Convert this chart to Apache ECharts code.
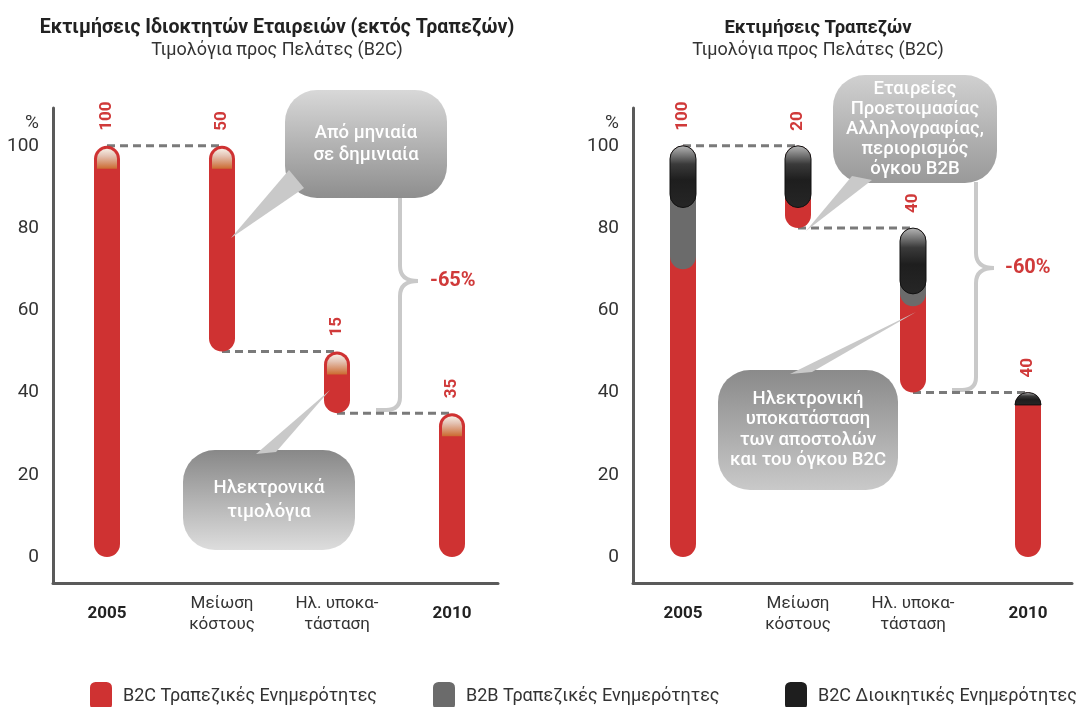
<!DOCTYPE html>
<html>
<head>
<meta charset="utf-8">
<script src="https://cdn.jsdelivr.net/npm/echarts@6/dist/echarts.min.js"></script>
<style>
  html, body { margin: 0; background: #fff; }
  #chart { width: 1077px; height: 707px; }
</style>
</head>
<body>
<div id="chart"></div>
<script>
// --- data ---
const categories = ['2005', 'Μείωση\nκόστους', 'Ηλ. υποκα-\nτάσταση', '2010']
const yTicks = [0, 20, 40, 60, 80, 100]

// left chart (Εκτιμήσεις Ιδιοκτητών Εταιρειών)
const leftBase = [0, 50, 35, 0]
const leftRed = [100, 50, 15, 35]

// right chart (Εκτιμήσεις Τραπεζών)
const rightBase = [0, 80, 40, 0]
const rightRed = [70, 5, 21, 37]
const rightGray = [15, 0, 3, 0]
const rightBlack = [15, 15, 16, 3]

const leftChange = '-65%'
const rightChange = '-60%'

const seriesNames = ['B2C Τραπεζικές Ενημερότητες', 'B2B Τραπεζικές Ενημερότητες', 'B2C Διοικητικές Ενημερότητες']

// --- helpers ---
const FONT = "Roboto, 'DejaVu Sans', sans-serif"
const RED = '#cf3232'
const GRAY = '#6b6b6b'
const BLACK = '#1e1e1e'
const BAR_W = 26

const add = (...arrs) => arrs[0].map((_, i) => arrs.reduce((s, a) => s + a[i], 0))

const leftTop = add(leftBase, leftRed)
const rightTop = add(rightBase, rightRed, rightGray, rightBlack)

// each segment is drawn from its own start up to the bar top, so the upper colour overlaps with a rounded bottom
const segData = (start, vals, top) =>
  vals.map((v, i) => (v > 0 ? [i, start[i], top[i]] : null)).filter(Boolean)

const linkData = (top) => top.slice(1).map((t, i) => [i, t])
const labelData = (base, top) => top.map((t, i) => [i, t, t - base[i]])

const capsule = (fill, stroke, withCap) => (params, api) => {
  const p0 = api.coord([api.value(0), api.value(1)])
  const p1 = api.coord([api.value(0), api.value(2)])
  const h = p0[1] - p1[1]
  const half = BAR_W / 2
  // short segments become a dome (flat bottom), longer ones a full capsule
  const r = h >= BAR_W ? half : [Math.min(half, h), Math.min(half, h), 0, 0]
  const children = [{
    type: 'rect',
    shape: { x: p1[0] - half, y: p1[1], width: BAR_W, height: h, r: r },
    style: { fill: fill, stroke: stroke, lineWidth: stroke ? 1 : 0 }
  }]
  if (withCap) {
    children.push({
      type: 'rect',
      shape: { x: p1[0] - half + 3, y: p1[1] + 3, width: BAR_W - 6, height: 20, r: [10, 10, 0, 0] },
      style: {
        fill: new echarts.graphic.LinearGradient(0, 0, 0, 1, [
          { offset: 0, color: '#f6eee4' },
          { offset: 0.35, color: '#e4c3b4' },
          { offset: 0.65, color: '#d99a78' },
          { offset: 1, color: '#cc6a30' }
        ])
      }
    })
  }
  return { type: 'group', children: children }
}

const linkRender = (params, api) => {
  const a = api.coord([api.value(0), api.value(1)])
  const b = api.coord([api.value(0) + 1, api.value(1)])
  return {
    type: 'line',
    shape: { x1: a[0], y1: a[1], x2: b[0], y2: b[1] },
    style: { stroke: '#7a7a7a', lineWidth: 3, lineDash: [8, 5] }
  }
}

const labelRender = (params, api) => {
  const p = api.coord([api.value(0), api.value(1)])
  return {
    type: 'text',
    x: p[0],
    y: p[1] - 15,
    rotation: Math.PI / 2,
    style: {
      text: String(api.value(2)),
      fill: '#d03a3a',
      fontFamily: FONT,
      fontWeight: 'bold',
      fontSize: 17,
      align: 'left',
      verticalAlign: 'middle'
    }
  }
}

const blackFill = new echarts.graphic.LinearGradient(0, 0, 0, 1, [
  { offset: 0, color: '#b8b8b8' },
  { offset: 0.3, color: '#3a3a3a' },
  { offset: 0.55, color: '#1e1e1e' },
  { offset: 1, color: '#262626' }
])

const xAxisOf = (gridIndex, min, max) => ({
  type: 'value',
  gridIndex: gridIndex,
  min: min,
  max: max,
  splitLine: { show: false },
  axisTick: { show: false },
  axisLine: { show: true, onZero: false, lineStyle: { color: '#5a5a5a', width: 3 } },
  axisLabel: {
    customValues: [0, 1, 2, 3],
    margin: 10,
    formatter: (v) => {
      const c = categories[Math.round(v)]
      return /^\d+$/.test(c) ? '{b|' + c + '}' : '{n|' + c + '}'
    },
    rich: {
      b: { fontFamily: FONT, fontWeight: 'bold', fontSize: 17, color: '#222', lineHeight: 42 },
      n: { fontFamily: FONT, fontSize: 17, color: '#333', lineHeight: 21 }
    }
  }
})

const yAxisOf = (gridIndex) => ({
  type: 'value',
  gridIndex: gridIndex,
  min: -6.3,
  max: 109.2,
  splitLine: { show: false },
  axisTick: { show: false },
  axisLine: { show: true, onZero: false, lineStyle: { color: '#5a5a5a', width: 3 } },
  axisLabel: {
    customValues: yTicks.concat([105.5]),
    margin: 14,
    fontFamily: FONT,
    fontSize: 19,
    color: '#333',
    formatter: (v) => (v > 101 ? '%' : String(v))
  }
})

const bubble = (x, y, w, h, top, bottom, text, lineHeight) => ({
  type: 'group',
  z: 10,
  children: [
    {
      type: 'rect',
      shape: { x: x, y: y, width: w, height: h, r: 32 },
      style: {
        fill: new echarts.graphic.LinearGradient(0, 0, 0, 1, [
          { offset: 0, color: top },
          { offset: 1, color: bottom }
        ])
      }
    },
    {
      type: 'text',
      x: x + w / 2,
      y: y + h / 2,
      style: {
        text: text,
        fill: '#fff',
        fontFamily: FONT,
        fontWeight: 500,
        fontSize: 18.5,
        lineHeight: lineHeight,
        align: 'center',
        verticalAlign: 'middle'
      }
    }
  ]
})

const wedge = (points) => ({
  type: 'polygon',
  z: 9,
  shape: { points: points },
  style: { fill: '#c9c9c9' }
})

// curly brace "}" : vertical at x, from y0 to y1, tip at (x + 18, ym), bottom end curls left
const brace = (x, y0, ym, y1) => {
  const st = { stroke: '#c9c9c9', lineWidth: 4, fill: 'none' }
  return {
    type: 'group',
    z: 9,
    children: [
      { type: 'line', shape: { x1: x, y1: y0, x2: x, y2: ym - 15 }, style: st },
      { type: 'bezierCurve', shape: { x1: x, y1: ym - 15, cpx1: x, cpy1: ym, x2: x + 18, y2: ym }, style: st },
      { type: 'bezierCurve', shape: { x1: x + 18, y1: ym, cpx1: x, cpy1: ym, x2: x, y2: ym + 15 }, style: st },
      { type: 'line', shape: { x1: x, y1: ym + 15, x2: x, y2: y1 - 13 }, style: st },
      { type: 'bezierCurve', shape: { x1: x, y1: y1 - 13, cpx1: x, cpy1: y1, x2: x - 14, y2: y1 }, style: st },
      { type: 'line', shape: { x1: x - 14, y1: y1, x2: x - 24, y2: y1 }, style: st }
    ]
  }
}

const changeText = (x, y, text) => ({
  type: 'text',
  z: 10,
  x: x,
  y: y,
  style: { text: text, fill: '#d03a3a', fontFamily: FONT, fontWeight: 'bold', fontSize: 20, verticalAlign: 'middle' }
})

const legendOf = (name, left) => ({
  data: [name],
  left: left,
  top: 677,
  icon: 'roundRect',
  itemWidth: 22,
  itemHeight: 28,
  selectedMode: false,
  textStyle: { fontFamily: FONT, fontSize: 18, color: '#333', padding: [0, 0, 0, 6] }
})

const chart = echarts.init(document.getElementById('chart'))

const option = {
  backgroundColor: '#fff',
  animation: false,
  title: [
    {
      text: 'Εκτιμήσεις Ιδιοκτητών Εταιρειών (εκτός Τραπεζών)',
      subtext: 'Τιμολόγια προς Πελάτες (B2C)',
      left: 277, top: 18, textAlign: 'center', padding: 0, itemGap: 2,
      textStyle: { fontFamily: FONT, fontWeight: 'bold', fontSize: 19.5, color: '#222', lineHeight: 20 },
      subtextStyle: { fontFamily: FONT, fontSize: 18, color: '#333', lineHeight: 20 }
    },
    {
      text: 'Εκτιμήσεις Τραπεζών',
      subtext: 'Τιμολόγια προς Πελάτες (B2C)',
      left: 818, top: 18, textAlign: 'center', padding: 0, itemGap: 2,
      textStyle: { fontFamily: FONT, fontWeight: 'bold', fontSize: 18.5, color: '#222', lineHeight: 20 },
      subtextStyle: { fontFamily: FONT, fontSize: 18, color: '#333', lineHeight: 20 }
    }
  ],
  legend: [
    legendOf(seriesNames[0], 85),
    legendOf(seriesNames[1], 428),
    legendOf(seriesNames[2], 780)
  ],
  grid: [
    { left: 53, top: 108, width: 445, height: 475 },
    { left: 633, top: 108, width: 439, height: 475 }
  ],
  xAxis: [xAxisOf(0, -0.4696, 3.4), xAxisOf(1, -0.4348, 3.3826)],
  yAxis: [yAxisOf(0), yAxisOf(1)],
  series: [
    // left
    { type: 'custom', name: 'links-left', xAxisIndex: 0, yAxisIndex: 0, z: 1, data: linkData(leftTop), renderItem: linkRender },
    {
      type: 'custom', name: seriesNames[0], xAxisIndex: 0, yAxisIndex: 0, z: 2,
      itemStyle: { color: RED },
      data: segData(leftBase, leftRed, leftTop), renderItem: capsule(RED, null, true)
    },
    { type: 'custom', name: 'labels-left', xAxisIndex: 0, yAxisIndex: 0, z: 3, data: labelData(leftBase, leftTop), renderItem: labelRender },
    // right
    { type: 'custom', name: 'links-right', xAxisIndex: 1, yAxisIndex: 1, z: 1, data: linkData(rightTop), renderItem: linkRender },
    {
      type: 'custom', name: seriesNames[0], xAxisIndex: 1, yAxisIndex: 1, z: 2,
      itemStyle: { color: RED },
      data: segData(rightBase, rightRed, rightTop), renderItem: capsule(RED, null, false)
    },
    {
      type: 'custom', name: seriesNames[1], xAxisIndex: 1, yAxisIndex: 1, z: 3,
      itemStyle: { color: GRAY },
      data: segData(add(rightBase, rightRed), rightGray, rightTop), renderItem: capsule(GRAY, null, false)
    },
    {
      type: 'custom', name: seriesNames[2], xAxisIndex: 1, yAxisIndex: 1, z: 4,
      itemStyle: { color: BLACK },
      data: segData(add(rightBase, rightRed, rightGray), rightBlack, rightTop), renderItem: capsule(blackFill, '#111', false)
    },
    { type: 'custom', name: 'labels-right', xAxisIndex: 1, yAxisIndex: 1, z: 5, data: labelData(rightBase, rightTop), renderItem: labelRender }
  ],
  graphic: [
    // callouts, left chart
    wedge([[289, 170], [304, 188], [231, 238]]),
    bubble(285, 90, 162, 108, '#d8d8d8', '#8e8e8e', 'Από μηνιαία\nσε δημινιαία', 22),
    wedge([[256, 454], [276, 452], [330, 390]]),
    bubble(183, 450, 172, 100, '#888888', '#dddddd', 'Ηλεκτρονικά\nτιμολόγια', 24),
    brace(400, 198, 281, 410),
    changeText(430, 281, leftChange),
    // callouts, right chart
    wedge([[852, 176], [872, 180], [806, 231]]),
    bubble(833, 75, 164, 108, '#d0d0d0', '#999999', 'Εταιρείες\nΠροετοιμασίας\nΑλληλογραφίας,\nπεριορισμός\nόγκου B2B', 20),
    wedge([[790, 374], [812, 372], [916, 312]]),
    bubble(718, 370, 180, 120, '#8a8a8a', '#c9c9c9', 'Ηλεκτρονική\nυποκατάσταση\nτων αποστολών\nκαι του όγκου B2C', 20.5),
    brace(976, 182, 268, 390),
    changeText(1005, 268, rightChange)
  ]
}

chart.setOption(option)
</script>
</body>
</html>
